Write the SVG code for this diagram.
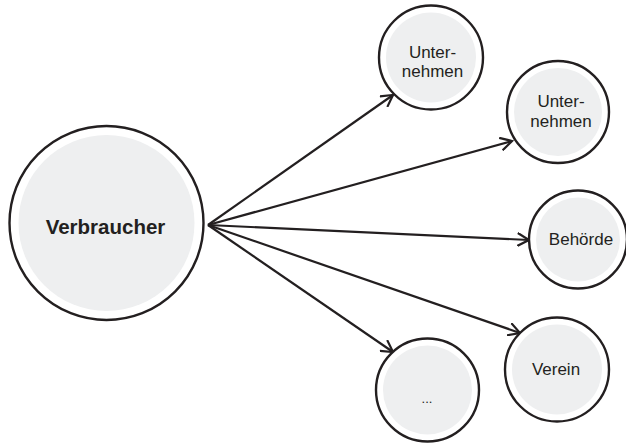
<svg xmlns="http://www.w3.org/2000/svg" width="626" height="444" viewBox="0 0 626 444">
<style>
.outer{fill:#ffffff;stroke:#231f20;stroke-width:2.4}
.inner{fill:#eeeff0;stroke:none}
.lbl{font-family:"Liberation Sans",Arial,sans-serif;font-size:17px;fill:#231f20;text-anchor:middle}
.big{font-size:20.5px;font-weight:bold}
.edge{fill:none;stroke:#231f20;stroke-width:2.2}
</style>
<defs>
<marker id="arr" markerUnits="userSpaceOnUse" viewBox="0 0 14 14" refX="12" refY="7" markerWidth="14" markerHeight="14" orient="auto">
<path d="M0.5,0.5 L12,7 L0.5,13.5" fill="none" stroke="#231f20" stroke-width="2.2" stroke-linejoin="miter"/>
</marker>
</defs>
<g id="connectors">
<line class="edge" x1="208" y1="225" x2="393" y2="95" marker-end="url(#arr)"/>
<line class="edge" x1="208" y1="225" x2="512" y2="141" marker-end="url(#arr)"/>
<line class="edge" x1="208" y1="225" x2="529" y2="240" marker-end="url(#arr)"/>
<line class="edge" x1="208" y1="225" x2="520" y2="333" marker-end="url(#arr)"/>
<line class="edge" x1="208" y1="225" x2="393" y2="352" marker-end="url(#arr)"/>
</g>
<g id="verbraucher">
<circle class="outer" cx="106.5" cy="223" r="97"/>
<circle class="inner" cx="106.5" cy="223" r="88"/>
<text class="lbl big" x="105.5" y="234">Verbraucher</text>
</g>
<g id="unternehmen1">
<circle class="outer" cx="431" cy="57.5" r="52"/>
<circle class="inner" cx="431" cy="57.5" r="45"/>
<text class="lbl" x="432.5" y="58">Unter-</text>
<text class="lbl" x="432.5" y="77">nehmen</text>
</g>
<g id="unternehmen2">
<circle class="outer" cx="558" cy="112" r="51"/>
<circle class="inner" cx="558" cy="112" r="44"/>
<text class="lbl" x="561" y="107">Unter-</text>
<text class="lbl" x="561" y="127">nehmen</text>
</g>
<g id="behoerde">
<circle class="outer" cx="578" cy="239.5" r="49"/>
<circle class="inner" cx="578" cy="239.5" r="42"/>
<text class="lbl" x="581" y="245">Behörde</text>
</g>
<g id="verein">
<circle class="outer" cx="557" cy="369.5" r="52"/>
<circle class="inner" cx="557" cy="369.5" r="45"/>
<text class="lbl" x="556" y="375">Verein</text>
</g>
<g id="more">
<circle class="outer" cx="427.5" cy="390" r="51.5"/>
<circle class="inner" cx="427.5" cy="390" r="44.5"/>
<text class="lbl" x="427" y="403" style="font-size:13px">...</text>
</g>
</svg>
